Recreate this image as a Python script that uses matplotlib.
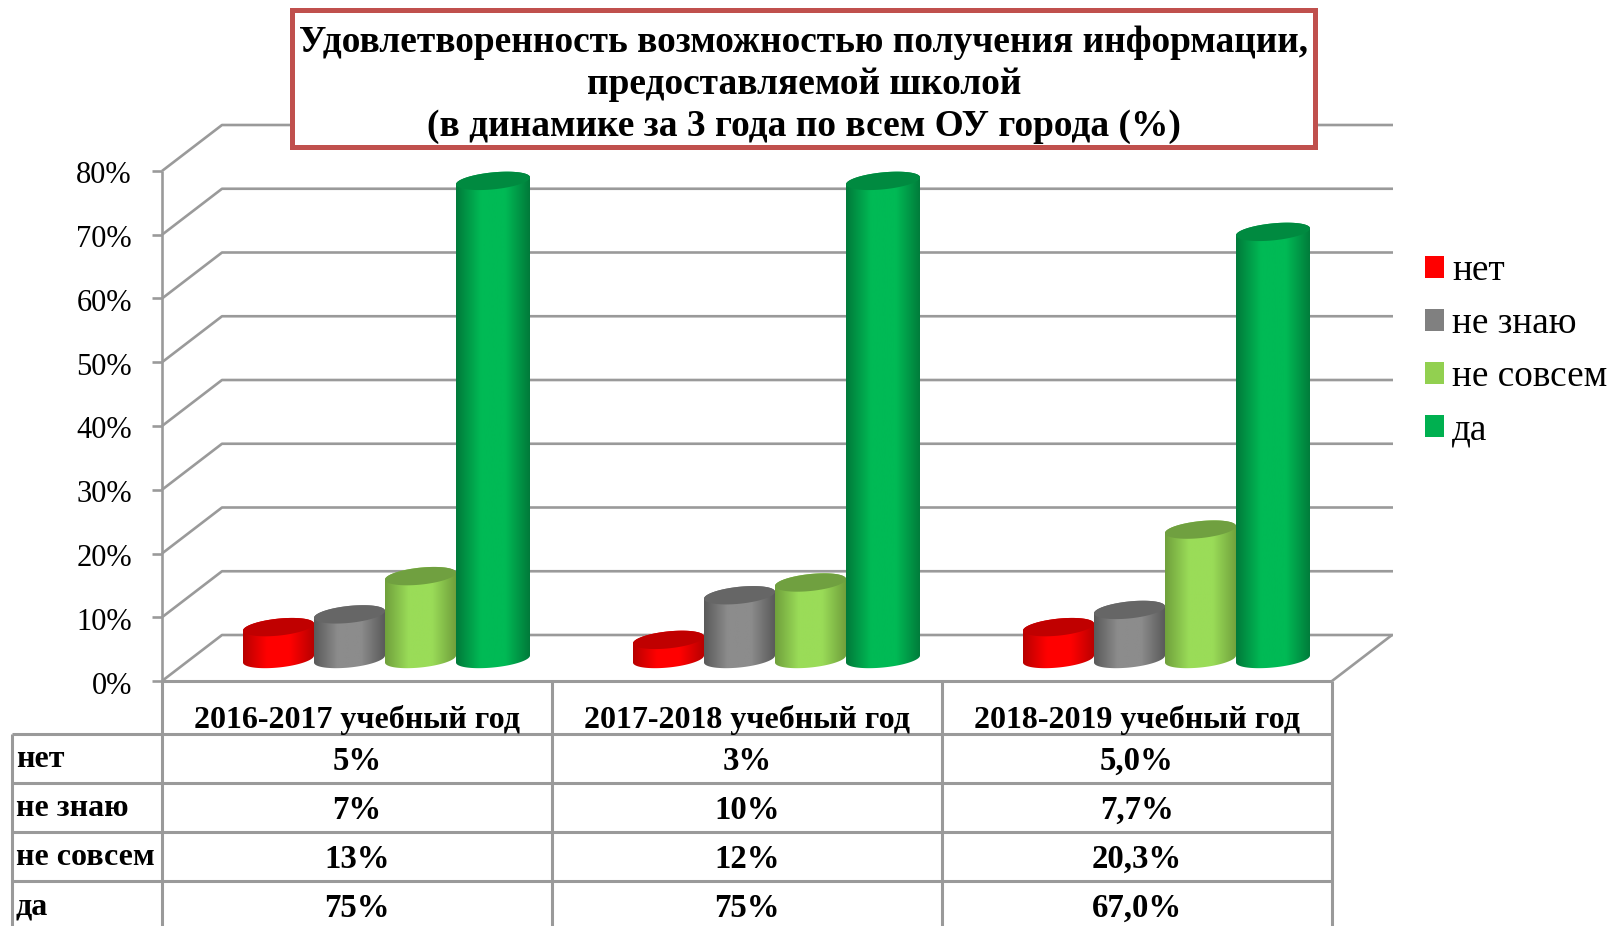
import matplotlib
matplotlib.use("Agg")
import matplotlib.pyplot as plt
import numpy as np
from matplotlib.colors import LinearSegmentedColormap
from matplotlib.patches import Patch, Polygon, Rectangle

plt.rcParams['font.family'] = ['Liberation Serif', 'DejaVu Serif']

years = ['2016-2017 учебный год', '2017-2018 учебный год', '2018-2019 учебный год']
series = ['нет', 'не знаю', 'не совсем', 'да']
net = [5, 3, 5.0]
ne_znayu = [7, 10, 7.7]
ne_sovsem = [13, 12, 20.3]
da = [75, 75, 67.0]
net_labels = ['5%', '3%', '5,0%']
ne_znayu_labels = ['7%', '10%', '7,7%']
ne_sovsem_labels = ['13%', '12%', '20,3%']
da_labels = ['75%', '75%', '67,0%']
y_ticks = [0, 10, 20, 30, 40, 50, 60, 70, 80]
title = ('Удовлетворенность возможностью получения информации,\n'
         'предоставляемой школой\n'
         '(в динамике за 3 года по всем ОУ города (%)')

values = [net, ne_znayu, ne_sovsem, da]
labels = [net_labels, ne_znayu_labels, ne_sovsem_labels, da_labels]

legend_colors = ['#FF0000', '#808080', '#92D050', '#00B050']
edge_colors = ['#B80000', '#5A5A5A', '#70A03C', '#007A3A']
mid_colors = ['#FF0000', '#8C8C8C', '#9ADC58', '#00BA55']
top_colors = ['#C00000', '#666666', '#70A040', '#008A40']
line_color = '#9A9A9A'

W, H = 1612, 926
X0, Y0 = 162, 681      # pixel of category 0 / value 0 on the front wall
CAT_PX, PCT_PX = 390, 6.375


def px_x(p):
    return (p - X0) / CAT_PX


def px_y(p):
    return (Y0 - p) / PCT_PX


fig = plt.figure(figsize=(W / 100, H / 100), dpi=100)
ax = fig.add_axes([0, 0, 1, 1])
ax.axis('off')

# 3d walls
depth_x = 60 / CAT_PX
depth_y = 46 / PCT_PX
grid_kw = dict(color=line_color, lw=1.9, zorder=1, solid_capstyle='butt')
for t in y_ticks:
    ax.plot([0, depth_x, 3 + depth_x + 1 / CAT_PX],
            [t, t + depth_y, t + depth_y], **grid_kw)
    ax.plot([px_x(152), 0], [t, t], **grid_kw)
    ax.text(px_x(132), t - 5 / PCT_PX, f'{t}%', ha='right', va='center', fontsize=22)
ax.plot([0, 0], [0, 80], **grid_kw)
ax.plot([3, 3 + depth_x], [0, depth_y], **grid_kw)

# cylinders
bar_step = 71 / CAT_PX
first_left = 81 / CAT_PX
b = 8.5 / PCT_PX
tilt = 3.5 / PCT_PX
base = 22 / PCT_PX
t_low = np.linspace(np.pi, 2 * np.pi, 60)
t_up = np.linspace(0, np.pi, 60)
t_all = np.linspace(0, 2 * np.pi, 120)

for i in range(len(years)):
    for j in range(len(series)):
        # last cylinder sits in front and looks a little wider
        a = (74 if j == 3 else 71) / CAT_PX / 2
        cx = i + first_left + j * bar_step + a
        cy = base + values[j][i]
        low = np.column_stack([cx + a * np.cos(t_low),
                               base + b * np.sin(t_low) + tilt * np.cos(t_low)])
        up = np.column_stack([cx + a * np.cos(t_up),
                              cy + b * np.sin(t_up) + tilt * np.cos(t_up)])
        cmap = LinearSegmentedColormap.from_list(
            'c', [edge_colors[j], mid_colors[j], mid_colors[j], edge_colors[j]])
        grad = np.linspace(0, 1, 128).reshape(1, -1)
        im = ax.imshow(grad, cmap=cmap, aspect='auto', zorder=2 + j * 0.1,
                       extent=[cx - a, cx + a, base - b - tilt, cy + b + tilt])
        body = Polygon(np.vstack([low, up]), closed=True, transform=ax.transData,
                       fc='none', ec='none')
        ax.add_patch(body)
        im.set_clip_path(body)
        top = np.column_stack([cx + a * np.cos(t_all),
                               cy + b * np.sin(t_all) + tilt * np.cos(t_all)])
        ax.add_patch(Polygon(top, closed=True, fc=top_colors[j], ec='none',
                             zorder=2.05 + j * 0.1))

# data table
tbl_kw = dict(color=line_color, lw=2.2, zorder=1.5, solid_capstyle='butt')
left = px_x(12)
row_tops = [734, 783, 832, 881]
bottom = px_y(926)
ax.plot([0, 0], [0, bottom], **tbl_kw)
for c in [1, 2, 3]:
    ax.plot([c, c], [0, bottom], **tbl_kw)
ax.plot([left, left], [px_y(734), bottom], **tbl_kw)
ax.plot([0, 3], [0, 0], **tbl_kw)
for r in row_tops:
    ax.plot([left, 3], [px_y(r), px_y(r)], **tbl_kw)

for c, year in enumerate(years):
    ax.text(c + 0.5, px_y(720), year, ha='center', va='center',
            fontsize=23, fontweight='bold')
for r, name in enumerate(series):
    yc = px_y(row_tops[r] + 27.5)
    ax.text(px_x(16), yc + 2 / PCT_PX, name, ha='left', va='center', fontsize=23, fontweight='bold')
    for c in range(len(years)):
        ax.text(c + 0.5, yc, labels[r][c], ha='center', va='center',
                fontsize=23.6, fontweight='bold')

# title box
ax.add_patch(Rectangle((px_x(292.5), px_y(147.5)), px_x(1315.5) - px_x(292.5),
                       px_y(10.5) - px_y(147.5), fc='white', ec='#C0504D',
                       lw=3.6, zorder=5))
ax.text(px_x(804), px_y(84.5), title, ha='center', va='center', fontsize=26.9,
        fontweight='bold', linespacing=1.27, zorder=6)

handles = [Patch(fc=c, ec='none') for c in legend_colors]
ax.legend(handles, series, loc='upper left', bbox_to_anchor=(1425 / W, 1 - 253.5 / H),
          frameon=False, fontsize=26.8, handlelength=0.51, handleheight=0.51,
          handletextpad=0.22, labelspacing=0.5, borderpad=0, borderaxespad=0)

ax.set_xlim(px_x(0), px_x(W))
ax.set_ylim(px_y(H), px_y(0))

fig.savefig('out.png', dpi=100, facecolor='white')
